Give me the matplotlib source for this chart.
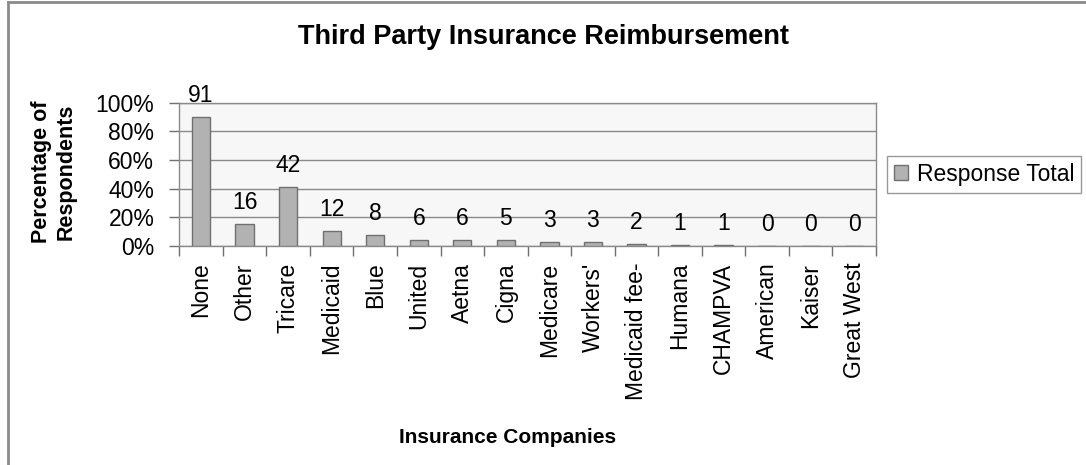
import matplotlib
matplotlib.use("Agg")
import matplotlib.pyplot as plt
from matplotlib.lines import Line2D
from matplotlib.ticker import FuncFormatter, MultipleLocator

# ---------------- DATA ----------------
companies = ["None", "Other", "Tricare", "Medicaid", "Blue", "United", "Aetna",
             "Cigna", "Medicare", "Workers'", "Medicaid fee-", "Humana",
             "CHAMPVA", "American", "Kaiser", "Great West"]
counts = [91, 16, 42, 12, 8, 6, 6, 5, 3, 3, 2, 1, 1, 0, 0, 0]
percents = [90.2, 15.6, 41.0, 10.7, 7.4, 4.4, 4.4, 4.4, 2.6, 2.6, 1.2, 0.7, 0.7, 0, 0, 0]
yticks = [0, 20, 40, 60, 80, 100]
# --------------------------------------

plt.rcParams['font.family'] = ['Liberation Sans', 'DejaVu Sans']

fig = plt.figure(figsize=(10.86, 4.65), dpi=100)
ax = fig.add_axes([179.3 / 1086, 1 - 246 / 465, (876 - 179.3) / 1086, (246 - 102.7) / 465])
ax.set_facecolor("#f7f7f7")

x = list(range(len(companies)))
bars = ax.bar(x, percents, width=0.42, color="#b2b2b2", edgecolor="#707070",
              linewidth=1.0, label="Response Total", zorder=3)

for xi, p, c in zip(x, percents, counts):
    ax.annotate(str(c), (xi, p), xytext=(0, 10.8), textcoords="offset points",
                ha="center", va="baseline", fontsize=16.5, annotation_clip=False)

ax.set_xlim(-0.5, len(companies) - 0.5)
ax.set_ylim(0, 100)
ax.set_yticks(yticks)
ax.yaxis.set_major_formatter(FuncFormatter(lambda v, pos: f"{int(v)}%"))
ax.grid(axis="y", color="#8a8a8a", linewidth=1.0, zorder=1)

ax.set_xticks(x)
ax.set_xticklabels(companies, rotation=90, fontsize=16.5)
ax.xaxis.set_minor_locator(MultipleLocator(1, offset=0.5))
ax.tick_params(axis="x", which="major", length=0, pad=12)
ax.tick_params(axis="x", which="minor", length=7, width=1, color="#707070", direction="out")
ax.tick_params(axis="y", length=7, width=1, color="#707070", pad=11, labelsize=16.5)

for s in ax.spines.values():
    s.set_color("#8a8a8a")
    s.set_linewidth(1.0)

fig.text(543 / 1086, 1 - 37 / 465, "Third Party Insurance Reimbursement",
         ha="center", va="center", fontsize=19.5, fontweight="bold")
fig.text(54 / 1086, 1 - 172 / 465, "Percentage of\nRespondents", rotation=90,
         ha="center", va="center", fontsize=15.5, fontweight="bold", linespacing=1.25)
fig.text(508 / 1086, 1 - 437 / 465, "Insurance Companies",
         ha="center", va="center", fontsize=15, fontweight="bold")

leg = ax.legend(loc="center left", bbox_to_anchor=(1.016, 0.5), fontsize=16.5,
                frameon=True, fancybox=False, handlelength=0.6, handleheight=0.6,
                handletextpad=0.4, borderpad=0.3, borderaxespad=0)
leg.get_frame().set_edgecolor("#808080")
leg.get_frame().set_linewidth(1.0)

# outer chart border (left and top visible)
fig.add_artist(Line2D([7.5 / 1086, 7.5 / 1086], [0, 1 - 2.5 / 465], color="#8a8a8a", linewidth=2))
fig.add_artist(Line2D([7.5 / 1086, 1], [1 - 2.5 / 465, 1 - 2.5 / 465], color="#8a8a8a", linewidth=2))

fig.savefig("out.png", dpi=100)
